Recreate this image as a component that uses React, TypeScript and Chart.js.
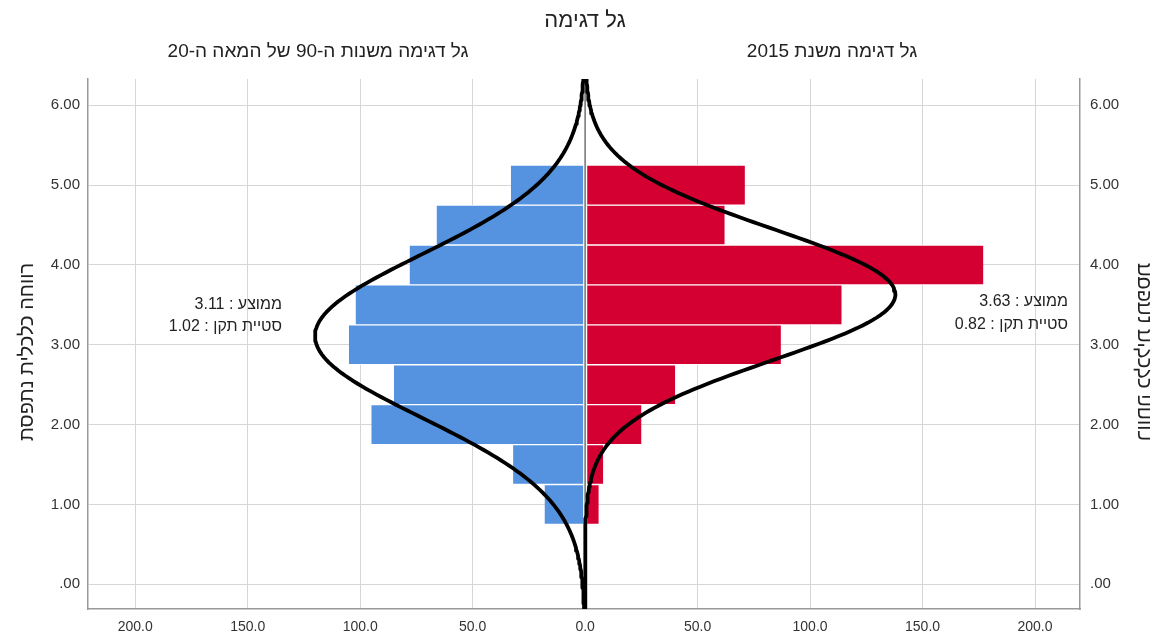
import { useEffect, useRef } from 'react';
import { Chart, registerables } from 'chart.js';

Chart.register(...registerables);

// ---- data ----
const binCenters = [1.0, 1.5, 2.0, 2.5, 3.0, 3.5, 4.0, 4.5, 5.0];
const countsNineties = [18, 32, 95, 85, 105, 102, 78, 66, 33];
const counts2015 = [6, 8, 25, 40, 87, 114, 177, 62, 71];
const xTickValues = [-200, -150, -100, -50, 0, 50, 100, 150, 200];
const yTickValues = [0, 1, 2, 3, 4, 5, 6];

const meanNineties = 3.11;
const sdNineties = 1.02;
const nNineties = 614;
const mean2015 = 3.63;
const sd2015 = 0.82;
const n2015 = 567;
const binWidth = 0.5;

const X_MIN = -221;
const X_MAX = 220;
const Y_MIN = -0.31;
const Y_MAX = 6.33;

const titleText = 'גל דגימה';
const subtitleLeft = 'גל דגימה משנות ה-90 של המאה ה-20';
const subtitleRight = 'גל דגימה משנת 2015';
const axisTitle = 'רווחה כלכלית נתפסת';
const statsLeft = ['ממוצע : 3.11', 'סטיית תקן : 1.02'];
const statsRight = ['ממוצע : 3.63', 'סטיית תקן : 0.82'];

const FONT = '"Liberation Sans", "DejaVu Sans", Arial, sans-serif';

function normalCurve(mean: number, sd: number, n: number, sign: number) {
  const pts: { x: number; y: number }[] = [];
  const steps = 200;
  for (let i = 0; i <= steps; i++) {
    const y = Y_MIN + ((Y_MAX - Y_MIN) * i) / steps;
    const z = (y - mean) / sd;
    const dens = (n * binWidth * Math.exp(-0.5 * z * z)) / (sd * Math.sqrt(2 * Math.PI));
    pts.push({ x: sign * dens, y });
  }
  return pts;
}

const overlayPlugin = {
  id: 'overlay',
  afterDatasetDraw(chart: any, args: any) {
    if (args.meta.type !== 'bar') return;
    const { ctx, chartArea } = chart;
    const x0 = chart.scales.x.getPixelForValue(0);
    ctx.save();
    ctx.strokeStyle = '#ffffff';
    ctx.lineWidth = 4;
    ctx.beginPath();
    ctx.moveTo(x0, chartArea.top);
    ctx.lineTo(x0, chartArea.bottom);
    ctx.stroke();
    ctx.strokeStyle = '#7a7a7a';
    ctx.lineWidth = 1.6;
    ctx.beginPath();
    ctx.moveTo(x0, chartArea.top);
    ctx.lineTo(x0, chartArea.bottom);
    ctx.stroke();
    ctx.restore();
  },
  afterDraw(chart: any) {
    const { ctx } = chart;
    ctx.save();
    ctx.direction = 'rtl';
    ctx.fillStyle = '#222';
    ctx.textBaseline = 'middle';
    ctx.textAlign = 'center';

    ctx.font = `22px ${FONT}`;
    ctx.fillText(titleText, 585, 21);

    ctx.font = `19px ${FONT}`;
    ctx.fillText(subtitleLeft, 318, 52);
    ctx.fillText(subtitleRight, 832, 52);

    ctx.font = `16px ${FONT}`;
    ctx.textAlign = 'right';
    ctx.fillText(statsLeft[0], 282, 305);
    ctx.fillText(statsLeft[1], 282, 327);
    ctx.fillText(statsRight[0], 1068, 302);
    ctx.fillText(statsRight[1], 1068, 325);

    ctx.font = `20px ${FONT}`;
    ctx.textAlign = 'center';
    ctx.save();
    ctx.translate(27, 352);
    ctx.rotate(-Math.PI / 2);
    ctx.fillText(axisTitle, 0, 0);
    ctx.restore();

    ctx.save();
    ctx.translate(1144, 352);
    ctx.rotate(Math.PI / 2);
    ctx.scale(1, -1);
    ctx.fillText(axisTitle, 0, 0);
    ctx.restore();

    ctx.restore();
  },
};

export default function App() {
  const ref = useRef<HTMLCanvasElement | null>(null);

  useEffect(() => {
    if (!ref.current) return;
    const xTickFont = { family: FONT, size: 14 };
    const yTickFont = { family: FONT, size: 15 };
    const curveStyle = {
      type: 'scatter',
      showLine: true,
      borderColor: '#000',
      borderWidth: 3.8,
      borderJoinStyle: 'round',
      borderCapStyle: 'round',
      pointRadius: 0,
      pointHoverRadius: 0,
      fill: false,
      order: 0,
      yAxisID: 'y',
      xAxisID: 'x',
    };
    const barStyle = {
      type: 'bar',
      borderColor: '#ffffff',
      borderWidth: { top: 1, bottom: 1, left: 0, right: 0 },
      borderSkipped: false,
      barPercentage: 1,
      categoryPercentage: 1,
      grouped: false,
      indexAxis: 'y',
      order: 2,
      yAxisID: 'y',
      xAxisID: 'x',
    };
    const chart = new Chart(ref.current, {
      type: 'bar',
      data: {
        datasets: [
          {
            ...curveStyle,
            label: 'curve90',
            data: normalCurve(meanNineties, sdNineties, nNineties, -1),
          } as any,
          {
            ...curveStyle,
            label: 'curve2015',
            data: normalCurve(mean2015, sd2015, n2015, 1),
          } as any,
          {
            ...barStyle,
            label: 'nineties',
            data: binCenters.map((c, i) => ({ x: -countsNineties[i], y: c })),
            backgroundColor: '#5592e0',
          } as any,
          {
            ...barStyle,
            label: 'y2015',
            data: binCenters.map((c, i) => ({ x: counts2015[i], y: c })),
            backgroundColor: '#d50032',
          } as any,
        ],
      },
      options: {
        animation: false,
        responsive: false,
        devicePixelRatio: 1,
        indexAxis: 'y',
        layout: { padding: { top: 79, left: 0, right: 0, bottom: 0 } },
        plugins: {
          legend: { display: false },
          tooltip: { enabled: false },
          title: { display: false },
        },
        scales: {
          x: {
            type: 'linear',
            position: 'bottom',
            min: X_MIN,
            max: X_MAX,
            offset: false,
            afterBuildTicks: (s: any) => {
              s.ticks = xTickValues.map((v) => ({ value: v }));
            },
            afterFit: (s: any) => {
              s.height = 31;
            },
            grid: { color: '#d6d6d6', lineWidth: 1, drawTicks: false, offset: false },
            border: { display: true, color: '#999', width: 1.5 },
            ticks: {
              padding: 10,
              color: '#333',
              font: xTickFont,
              callback: (v: any) => Math.abs(Number(v)).toFixed(1),
            },
          },
          y: {
            type: 'linear',
            position: 'left',
            min: Y_MIN,
            max: Y_MAX,
            offset: false,
            afterBuildTicks: (s: any) => {
              s.ticks = yTickValues.map((v) => ({ value: v }));
            },
            afterFit: (s: any) => {
              s.width = 88;
            },
            grid: { color: '#d6d6d6', lineWidth: 1, drawTicks: false, offset: false },
            border: { display: true, color: '#999', width: 1.5 },
            ticks: {
              padding: 8,
              color: '#333',
              font: yTickFont,
              callback: (v: any) => (Number(v) === 0 ? '.00' : Number(v).toFixed(2)),
            },
          },
          y2: {
            type: 'linear',
            position: 'right',
            min: Y_MIN,
            max: Y_MAX,
            offset: false,
            afterBuildTicks: (s: any) => {
              s.ticks = yTickValues.map((v) => ({ value: v }));
            },
            afterFit: (s: any) => {
              s.width = 78;
            },
            grid: { display: false, drawTicks: false, offset: false },
            border: { display: true, color: '#999', width: 1.5 },
            ticks: {
              padding: 10,
              color: '#333',
              font: yTickFont,
              callback: (v: any) => (Number(v) === 0 ? '.00' : Number(v).toFixed(2)),
            },
          },
        },
      } as any,
      plugins: [overlayPlugin],
    });
    return () => chart.destroy();
  }, []);

  return (
    <div style={{ position: 'fixed', left: 0, top: 0, width: 1158, height: 640, background: '#fff' }}>
      <canvas ref={ref} width={1158} height={640} style={{ display: 'block' }} />
    </div>
  );
}
